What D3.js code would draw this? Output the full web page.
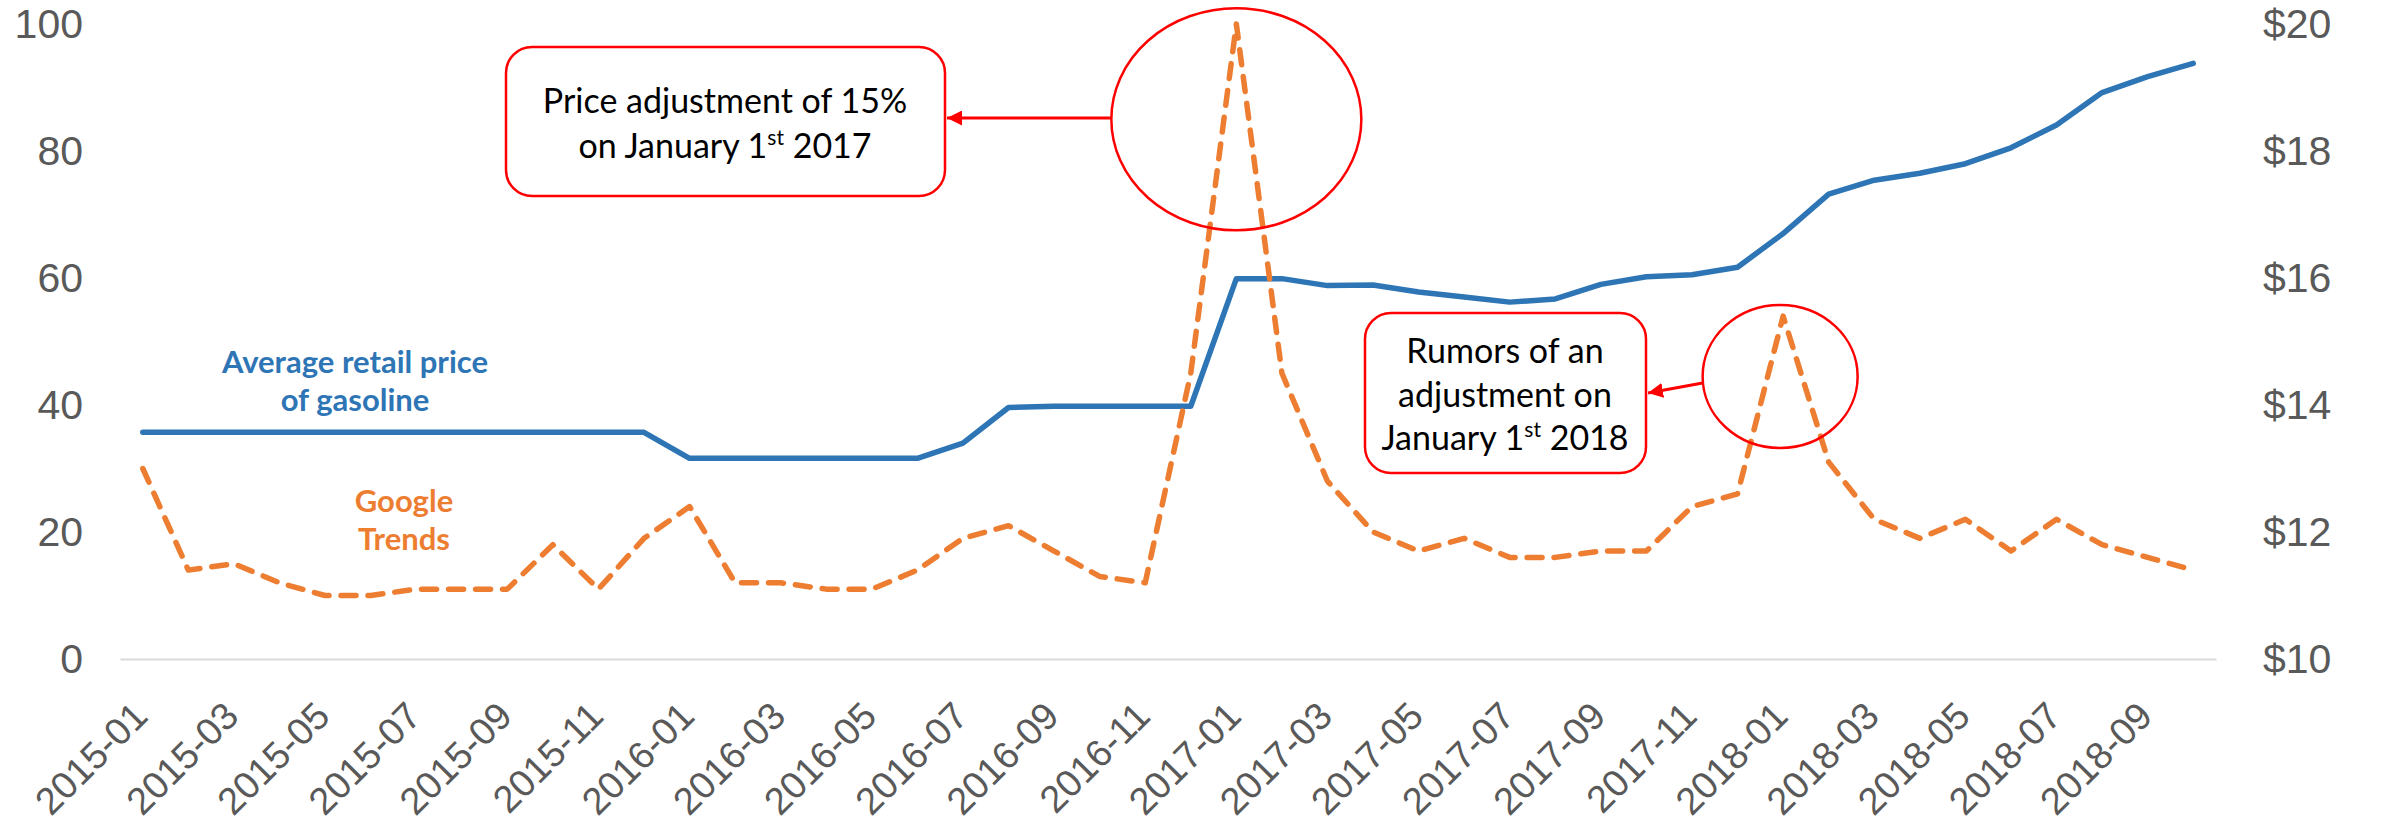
<!DOCTYPE html>
<html>
<head>
<meta charset="utf-8">
<script src="https://cdn.jsdelivr.net/npm/d3@7"></script>
<style>
  body { margin: 0; background: #fff; }
  svg { display: block; font-family: Lato, "Open Sans", sans-serif; }
</style>
</head>
<body>
<svg id="chart" width="2384" height="825"></svg>
<script>
// DATA

var months = [
  "2015-01","2015-02","2015-03","2015-04","2015-05","2015-06","2015-07","2015-08","2015-09","2015-10","2015-11","2015-12",
  "2016-01","2016-02","2016-03","2016-04","2016-05","2016-06","2016-07","2016-08","2016-09","2016-10","2016-11","2016-12",
  "2017-01","2017-02","2017-03","2017-04","2017-05","2017-06","2017-07","2017-08","2017-09","2017-10","2017-11","2017-12",
  "2018-01","2018-02","2018-03","2018-04","2018-05","2018-06","2018-07","2018-08","2018-09","2018-10"
];

// google trends index (left axis)
var trends = [
  30,14,15,12,10,10,11,11,11,18,11,19,
  24,12,12,11,11,14,19,21,17,13,12,45,
  100,45,28,20,17,19,16,16,17,17,24,26,
  54,31,22,19,22,17,22,18,16,14
];

// average retail price of gasoline (right axis, $)
var price = [
  13.57,13.57,13.57,13.57,13.57,13.57,13.57,13.57,13.57,13.57,13.57,13.57,
  13.16,13.16,13.16,13.16,13.16,13.16,13.40,13.96,13.98,13.98,13.98,13.98,
  15.99,15.99,15.88,15.89,15.78,15.70,15.62,15.67,15.90,16.02,16.05,16.17,
  16.70,17.32,17.54,17.65,17.80,18.05,18.41,18.92,19.17,19.38
];

var leftTicks = [0, 20, 40, 60, 80, 100];
var rightTicks = [10, 12, 14, 16, 18, 20];
var xTickLabels = [
  "2015-01","2015-03","2015-05","2015-07","2015-09","2015-11",
  "2016-01","2016-03","2016-05","2016-07","2016-09","2016-11",
  "2017-01","2017-03","2017-05","2017-07","2017-09","2017-11",
  "2018-01","2018-03","2018-05","2018-07","2018-09"
];

// SCALES

var svg = d3.select('#chart');

var x = d3.scalePoint()
  .domain(months)
  .range([120, 2216])
  .padding(0.5);

var yLeft = d3.scaleLinear().domain([0, 100]).range([659, 24]);
var yRight = d3.scaleLinear().domain([10, 20]).range([659, 24]);

var tickColor = '#595959';

// AXES

var xAxis = svg.append('g')
  .attr('transform', 'translate(0,' + yLeft(0) + ')')
  .call(d3.axisBottom(x).tickValues(xTickLabels).tickSize(0).tickSizeOuter(0).tickPadding(0));

xAxis.select('.domain').attr('stroke', '#d9d9d9').attr('stroke-width', 2);
xAxis.selectAll('text')
  .attr('fill', tickColor)
  .attr('font-size', 38)
  .attr('text-anchor', 'end')
  .attr('y', 0)
  .attr('dy', '0.35em')
  .attr('transform', 'translate(-3,50) rotate(-45)');

var leftAxis = svg.append('g')
  .attr('transform', 'translate(83,0)')
  .call(d3.axisLeft(yLeft).tickValues(leftTicks).tickSize(0).tickPadding(0));
leftAxis.select('.domain').remove();
leftAxis.selectAll('text').attr('fill', tickColor).attr('font-size', 41);

var rightAxis = svg.append('g')
  .attr('transform', 'translate(2263,0)')
  .call(d3.axisRight(yRight).tickValues(rightTicks).tickSize(0).tickPadding(0)
    .tickFormat(function(d){ return '$' + d; }));
rightAxis.select('.domain').remove();
rightAxis.selectAll('text').attr('fill', tickColor).attr('font-size', 41);

// LINES

var priceLine = d3.line()
  .x(function(d, i){ return x(months[i]); })
  .y(function(d){ return yRight(d); });

var trendLine = d3.line()
  .x(function(d, i){ return x(months[i]); })
  .y(function(d){ return yLeft(d); });

svg.append('path')
  .datum(price)
  .attr('d', priceLine)
  .attr('fill', 'none')
  .attr('stroke', '#2e75b6')
  .attr('stroke-width', 5.5)
  .attr('stroke-linejoin', 'round')
  .attr('stroke-linecap', 'round');

svg.append('path')
  .datum(trends)
  .attr('d', trendLine)
  .attr('fill', 'none')
  .attr('stroke', '#ed7d31')
  .attr('stroke-width', 5.5)
  .attr('stroke-dasharray', '15,12')
  .attr('stroke-linejoin', 'round')
  .attr('stroke-linecap', 'round');

// SERIES LABELS (one text per line)

var addLabel = function(lines, cx, ys, color){
  lines.forEach(function(line, i){
    svg.append('text')
      .attr('x', cx)
      .attr('y', ys[i])
      .attr('text-anchor', 'middle')
      .attr('font-weight', 'bold')
      .attr('font-size', 31)
      .attr('fill', color)
      .text(line);
  });
}

addLabel(['Average retail price', 'of gasoline'], 355, [373, 411], '#2e75b6');
addLabel(['Google', 'Trends'], 404, [512, 550], '#ed7d31');

// ANNOTATIONS

svg.append('defs').append('marker')
  .attr('id', 'arrow')
  .attr('viewBox', '0 0 10 10')
  .attr('refX', 10)
  .attr('refY', 5)
  .attr('markerWidth', 5)
  .attr('markerHeight', 5)
  .attr('markerUnits', 'strokeWidth')
  .attr('orient', 'auto')
  .append('path')
  .attr('d', 'M0,0 L10,5 L0,10 z')
  .attr('fill', '#ff0000');

var red = '#ff0000';

// 2017 spike
var e1 = { cx: x('2017-01'), cy: yLeft(85), rx: 125, ry: 111 };
svg.append('ellipse')
  .attr('cx', e1.cx).attr('cy', e1.cy).attr('rx', e1.rx).attr('ry', e1.ry)
  .attr('fill', 'none').attr('stroke', red).attr('stroke-width', 2.5);

svg.append('rect')
  .attr('x', 506).attr('y', 47).attr('width', 439).attr('height', 149)
  .attr('rx', 26)
  .attr('fill', '#fff').attr('stroke', red).attr('stroke-width', 2.5);

svg.append('line')
  .attr('x1', e1.cx - e1.rx).attr('y1', 118)
  .attr('x2', 947).attr('y2', 118)
  .attr('stroke', red).attr('stroke-width', 3)
  .attr('marker-end', 'url(#arrow)');

var t1 = svg.append('text').attr('text-anchor', 'middle').attr('font-size', 34).attr('fill', '#000');
t1.append('tspan').attr('x', 725).attr('y', 113).text('Price adjustment of 15%');
var t1b = t1.append('tspan').attr('x', 725).attr('y', 158);
t1b.append('tspan').text('on January 1');
t1b.append('tspan').attr('font-size', 21).attr('dy', -13).text('st');
t1b.append('tspan').attr('dy', 13).text(' 2017');

// 2018 spike
var e2 = { cx: x('2018-01') - 3, cy: yLeft(44.5), rx: 77.5, ry: 71.5 };
svg.append('ellipse')
  .attr('cx', e2.cx).attr('cy', e2.cy).attr('rx', e2.rx).attr('ry', e2.ry)
  .attr('fill', 'none').attr('stroke', red).attr('stroke-width', 2.5);

svg.append('rect')
  .attr('x', 1365).attr('y', 313).attr('width', 281).attr('height', 160)
  .attr('rx', 26)
  .attr('fill', '#fff').attr('stroke', red).attr('stroke-width', 2.5);

svg.append('line')
  .attr('x1', e2.cx - e2.rx).attr('y1', 383)
  .attr('x2', 1648).attr('y2', 393)
  .attr('stroke', red).attr('stroke-width', 3)
  .attr('marker-end', 'url(#arrow)');

var t2 = svg.append('text').attr('text-anchor', 'middle').attr('font-size', 34).attr('fill', '#000');
t2.append('tspan').attr('x', 1505).attr('y', 363).text('Rumors of an');
t2.append('tspan').attr('x', 1505).attr('y', 407).text('adjustment on');
var t2c = t2.append('tspan').attr('x', 1505).attr('y', 450);
t2c.append('tspan').text('January 1');
t2c.append('tspan').attr('font-size', 21).attr('dy', -13).text('st');
t2c.append('tspan').attr('dy', 13).text(' 2018');
</script>
</body>
</html>
